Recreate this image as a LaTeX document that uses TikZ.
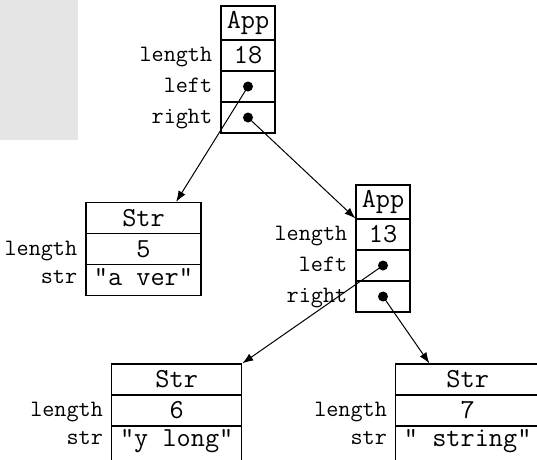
\documentclass[tikz,border=0pt]{standalone}
\usetikzlibrary{arrows.meta,calc}
\begin{document}
\begin{tikzpicture}[x=1pt,y=-1pt,
  cell/.style 2 args={draw, line width=1.2pt, inner sep=0pt, minimum width=#1, minimum height=#2,
    text height=16.5pt, font=\fontsize{27.5}{32}\selectfont\ttfamily},
  strcell/.style={text depth=6.5pt},
  strbot/.style={text depth=11pt},
  lbl/.style={inner sep=0pt, anchor=base east, font=\fontsize{23.5}{28}\selectfont\ttfamily},
  dot/.style={circle, fill=black, inner sep=0pt, minimum size=10pt},
  arr/.style={line width=1pt, -{Latex[length=11pt,width=8pt]}}
]
\clip (0,0) rectangle (537,459);
\fill[black!10] (0,0) rectangle (78,140);

% App (top)
\node[cell={54pt}{34pt}] (a1h) at (248,23) {App};
\node[cell={54pt}{31pt}] (a1n) at (248,55.5) {18};
\node[cell={54pt}{31pt}] (a1l) at (248,86.5) {};
\node[cell={54pt}{31pt}] (a1r) at (248,117.5) {};
\node[lbl] (a1nL) at ($(a1n.base west)+(-8,-2)$) {length};
\node[lbl] (a1lL) at ($(a1l.base west)+(-8,-2)$) {left};
\node[lbl] (a1rL) at ($(a1r.base west)+(-8,-2)$) {right};
\node[dot] (a1ld) at (a1l.center) {};
\node[dot] (a1rd) at (a1r.center) {};

% App (middle)
\node[cell={54pt}{34pt}] (a2h) at (383,202) {App};
\node[cell={54pt}{31pt}] (a2n) at (383,234.5) {13};
\node[cell={54pt}{31pt}] (a2l) at (383,265.5) {};
\node[cell={54pt}{31pt}] (a2r) at (383,296.5) {};
\node[lbl] (a2nL) at ($(a2n.base west)+(-8,-2)$) {length};
\node[lbl] (a2lL) at ($(a2l.base west)+(-8,-2)$) {left};
\node[lbl] (a2rL) at ($(a2r.base west)+(-8,-2)$) {right};
\node[dot] (a2ld) at (a2l.center) {};
\node[dot] (a2rd) at (a2r.center) {};

% Str "a ver"
\node[cell={115pt}{31pt}] (s1h) at (143.5,218) {Str};
\node[cell={115pt}{31pt}] (s1n) at (143.5,249) {5};
\node[cell={115pt}{31pt},strcell] (s1s) at (143.5,280) {"a ver"};
\node[lbl] (s1nL) at ($(s1n.base west)+(-8,-2)$) {length};
\node[lbl] (s1sL) at ($(s1s.base west)+(-8,-2)$) {str};

% Str "y long"
\node[cell={130pt}{31pt}] (s2h) at (176.7,379.5) {Str};
\node[cell={130pt}{31pt}] (s2n) at (176.7,410.5) {6};
\node[cell={130pt}{36pt},strbot] (s2s) at (176.7,444) {"y long"};
\node[lbl] (s2nL) at ($(s2n.base west)+(-8,-2)$) {length};
\node[lbl] (s2sL) at ($(s2s.base west)+(-8,-2)$) {str};

% Str " string"
\node[cell={144pt}{31pt}] (s3h) at (467.7,379.5) {Str};
\node[cell={144pt}{31pt}] (s3n) at (467.7,410.5) {7};
\node[cell={144pt}{36pt},strbot] (s3s) at (467.7,444) {" string"};
\node[lbl] (s3nL) at ($(s3n.base west)+(-8,-2)$) {length};
\node[lbl] (s3sL) at ($(s3s.base west)+(-8,-2)$) {str};

% pointers
\draw[arr] (a1ld.center) -- ($(s1h.north west)+(90.7,0)$);
\draw[arr] (a1rd.center) -- (a2n.north west);
\draw[arr] (a2ld.center) -- (s2h.north east);
\draw[arr] (a2rd.center) -- ($(s3h.north west)+(34.3,0)$);
\end{tikzpicture}
\end{document}
